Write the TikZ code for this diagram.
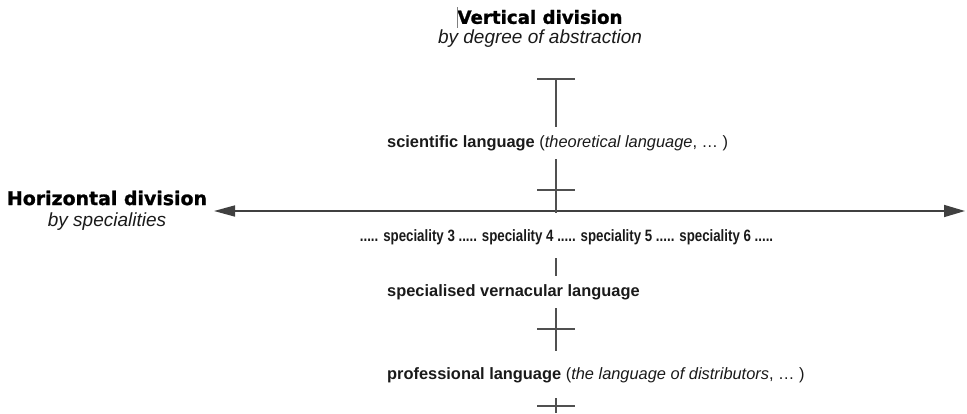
\documentclass[tikz,border=0pt]{standalone}
\usepackage{fontspec}
\usepackage{graphicx}
\setmainfont{Liberation Sans}
\newfontfamily\heavy{DejaVu Sans}[FakeBold=1.2]
\usetikzlibrary{arrows.meta}
\definecolor{linegray}{HTML}{505050}
\definecolor{txt}{HTML}{1A1A1A}
\tikzset{
  lbl/.style={inner sep=0pt, text=txt, font=\fontsize{16.4}{19}\selectfont},
  head/.style={inner sep=0pt, text=black, font=\heavy\bfseries\fontsize{18.5}{21}\selectfont},
  sub/.style={inner sep=0pt, text=txt, font=\itshape\fontsize{19}{22}\selectfont},
  vline/.style={draw=linegray, line width=1.6pt},
  axis/.style={draw=linegray!80!black, line width=1.6pt, {Triangle[length=21pt,width=11pt]}-{Triangle[length=21pt,width=12pt]}}
}
\begin{document}
\begin{tikzpicture}[x=1pt,y=-1pt]
\useasboundingbox (0,0) rectangle (967,413);
% headings
\node[head] (vt) at (540,17) {\resizebox{165pt}{!}{Vertical division}};
\node[sub] (vs) at (540,39) {by degree of abstraction};
\node[head] (ht) at (107,198) {\resizebox{200pt}{!}{Horizontal\ division}};
\node[sub] (hs) at (107,222) {by specialities};
\draw[gray, line width=0.6pt] (457,7) -- (457,28);
% level labels
\node[lbl, anchor=west] (sci) at (387,143) {\textbf{scientific language} (\textit{theoretical language}, \dots\ )};
\node[lbl, anchor=center, font=\bfseries\fontsize{16.4}{19}\selectfont] (spec) at (566.5,237) {\scalebox{0.81}[1]{..... speciality 3 ..... speciality 4 ..... speciality 5 ..... speciality 6 .....}};
\node[lbl, anchor=west] (verna) at (387,292) {\textbf{specialised vernacular language}};
\node[lbl, anchor=west] (prof) at (387,375) {\textbf{professional language} (\textit{the language of distributors}, \dots\ )};
% axis
\coordinate (L) at (214,211);
\coordinate (R) at (965,211);
\draw[axis] (L) -- (R);
% vertical division line pieces
\coordinate (t1) at (556,79);
\coordinate (t1b) at (556,127);
\coordinate (s1) at (556,159);
\coordinate (c1) at (556,190);
\coordinate (o) at (556,213);
\coordinate (s2a) at (556,258);
\coordinate (s2b) at (556,276);
\coordinate (s3a) at (556,308);
\coordinate (c2) at (556,329);
\coordinate (s3b) at (556,351);
\coordinate (b0) at (556,398);
\coordinate (b1) at (556,406);
\coordinate (b2) at (556,413);
\draw[vline] ([xshift=-19pt]t1) -- ([xshift=19pt]t1);
\draw[vline] (t1) -- (t1b);
\draw[vline] (s1) -- (o);
\draw[vline] ([xshift=-19pt]c1) -- ([xshift=19pt]c1);
\draw[vline] (s2a) -- (s2b);
\draw[vline] (s3a) -- (s3b);
\draw[vline] ([xshift=-19pt]c2) -- ([xshift=19pt]c2);
\draw[vline] (b0) -- (b2);
\draw[vline] ([xshift=-19pt]b1) -- ([xshift=19pt]b1);
\end{tikzpicture}
\end{document}
